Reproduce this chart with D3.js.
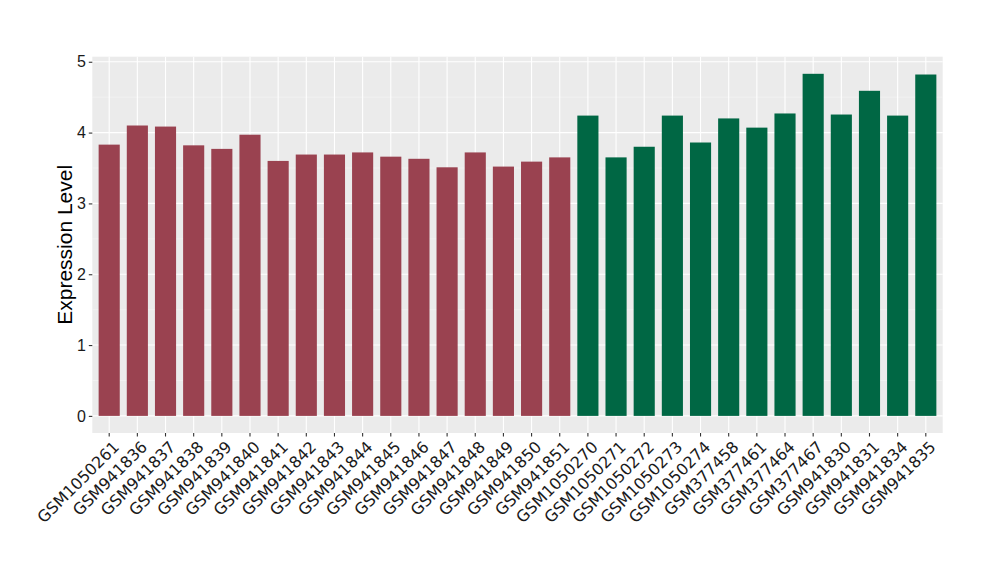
<!DOCTYPE html>
<html><head><meta charset="utf-8">
<script src="https://cdn.jsdelivr.net/npm/d3@7"></script>
<style>body{margin:0;background:#fff}
.xl{font-family:"DejaVu Sans",sans-serif;font-size:16px;fill:#1a1a1a}
.yl{font-family:"Liberation Sans",Arial,sans-serif;font-size:16px;fill:#1a1a1a}
.tt{font-family:"Liberation Sans",Arial,sans-serif;font-size:21px;fill:#000}
</style>
</head><body>
<svg id="c" width="1000" height="580"></svg>
<script>
const categories = ["GSM1050261","GSM941836","GSM941837","GSM941838","GSM941839","GSM941840","GSM941841","GSM941842","GSM941843","GSM941844","GSM941845","GSM941846","GSM941847","GSM941848","GSM941849","GSM941850","GSM941851","GSM1050270","GSM1050271","GSM1050272","GSM1050273","GSM1050274","GSM377458","GSM377461","GSM377464","GSM377467","GSM941830","GSM941831","GSM941834","GSM941835"];
const values = [3.83,4.10,4.085,3.82,3.77,3.97,3.60,3.69,3.69,3.72,3.66,3.63,3.51,3.72,3.52,3.59,3.65,4.24,3.65,3.80,4.24,3.86,4.20,4.07,4.27,4.83,4.255,4.59,4.24,4.82];
const groups = ["A","A","A","A","A","A","A","A","A","A","A","A","A","A","A","A","A","B","B","B","B","B","B","B","B","B","B","B","B","B"];
const groupColors = {A:"#9A4250", B:"#006744"};
const yTicks = [0,1,2,3,4,5];
const yLabel = "Expression Level";

const svg = d3.select("#c");
const L=92.3, R=942.7, T=56.7, B=433;
const maxV = d3.max(values);
// ggplot-style discrete scale: 0.6 unit expansion each side, bar width 0.75
const step = (R-L)/(categories.length - 1 + 1.2);
const xc = d3.scaleLinear().domain([0, categories.length-1]).range([L+0.6*step, R-0.6*step]);
const y = d3.scaleLinear().domain([-0.05*maxV, maxV*1.05]).range([B,T]);

svg.append("rect").attr("x",L).attr("y",T).attr("width",R-L).attr("height",B-T).attr("fill","#EBEBEB");
const minor = d3.range(0.5,5.5,1).filter(v=>y(v)>T);
svg.selectAll(".mg").data(minor).enter().append("line")
  .attr("x1",L).attr("x2",R).attr("y1",d=>y(d)).attr("y2",d=>y(d))
  .attr("stroke","#F5F5F5").attr("stroke-width",0.6);
svg.selectAll(".yg").data(yTicks).enter().append("line")
  .attr("x1",L).attr("x2",R).attr("y1",d=>y(d)).attr("y2",d=>y(d))
  .attr("stroke","#fff").attr("stroke-width",1.1);
svg.selectAll(".xg").data(categories).enter().append("line")
  .attr("x1",(d,i)=>xc(i)).attr("x2",(d,i)=>xc(i)).attr("y1",T).attr("y2",B)
  .attr("stroke","#fff").attr("stroke-width",1.1);

const bw = 0.75*step;
svg.selectAll(".bar").data(values).enter().append("rect")
  .attr("x",(d,i)=>xc(i)-bw/2).attr("width",bw)
  .attr("y",d=>y(d)).attr("height",d=>y(0)-y(d))
  .attr("fill",(d,i)=>groupColors[groups[i]]);

const ya = svg.append("g").attr("transform",`translate(${L},0)`)
  .call(d3.axisLeft(y).tickValues(yTicks).tickSize(3.5).tickPadding(3).tickFormat(d3.format("d")));
ya.select(".domain").remove();
ya.selectAll("line").attr("stroke","#333").attr("stroke-width",1.1);
ya.selectAll("text").attr("class","yl").attr("fill",null);
ya.attr("font-family",null).attr("font-size",null);

const xa = svg.append("g").attr("transform",`translate(0,${B})`);
xa.selectAll("line").data(categories).enter().append("line")
  .attr("x1",(d,i)=>xc(i)).attr("x2",(d,i)=>xc(i)).attr("y1",0).attr("y2",3.5)
  .attr("stroke","#333").attr("stroke-width",1.1);
xa.selectAll("text").data(categories).enter().append("text")
  .attr("class","xl")
  .attr("transform",(d,i)=>`translate(${xc(i)+7},${11}) rotate(-45)`)
  .attr("text-anchor","end").attr("dy","0.35em")
  .text(d=>d);

svg.append("text").attr("class","tt").attr("transform",`translate(72,${(T+B)/2}) rotate(-90)`)
  .attr("text-anchor","middle").text(yLabel);
</script>
</body></html>
